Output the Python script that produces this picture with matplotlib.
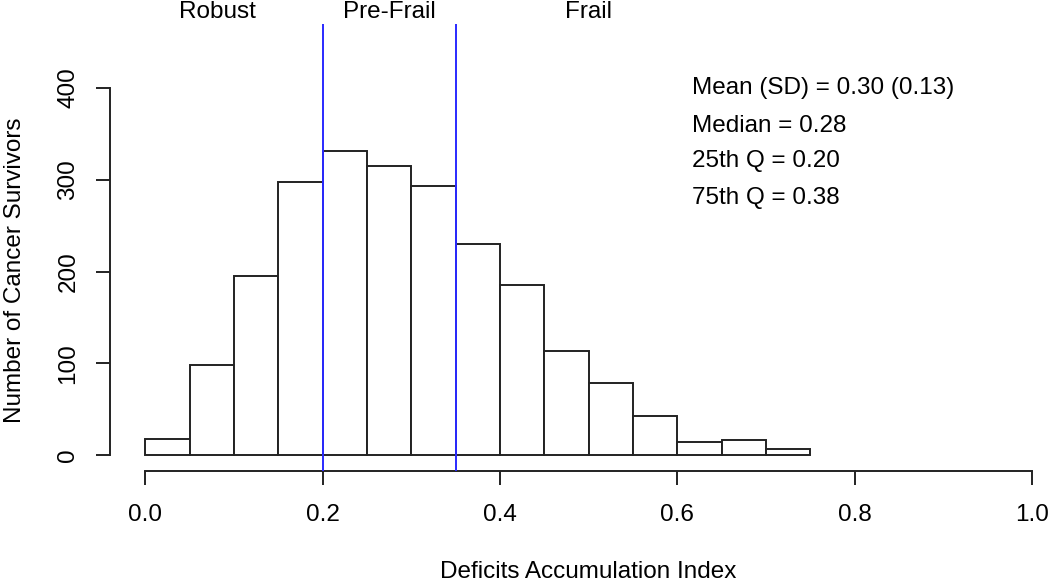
import matplotlib
matplotlib.use("Agg")
import matplotlib.pyplot as plt
import numpy as np

plt.rcParams['font.family'] = ['Liberation Sans', 'DejaVu Sans']

# histogram of the deficits accumulation index
bin_edges = [0.00, 0.05, 0.10, 0.15, 0.20, 0.25, 0.30, 0.35, 0.40, 0.45,
             0.50, 0.55, 0.60, 0.65, 0.70, 0.75]
counts = [17, 98, 195, 298, 331, 315, 293, 230, 185, 113, 79, 43, 14, 16, 7]

cutoffs = [0.20, 0.35]
groups = ['Robust', 'Pre-Frail', 'Frail']
group_x = [0.081, 0.275, 0.50]

stats = ['Mean (SD) = 0.30 (0.13)', 'Median = 0.28',
         '25th Q = 0.20', '75th Q = 0.38']
stats_y = [400, 359, 320, 280]

xticks = [0.0, 0.2, 0.4, 0.6, 0.8, 1.0]
yticks = [0, 100, 200, 300, 400]

fs = 17.5
W, H = 1050, 582
fig = plt.figure(figsize=(W / 100, H / 100), dpi=100)
left, right, top, bottom = 110, 1067.5, 24, 471
ax = fig.add_axes([left / W, 1 - bottom / H, (right - left) / W, (bottom - top) / H])

widths = np.diff(bin_edges)
ax.bar(bin_edges[:-1], counts, width=widths, align='edge',
       color='white', edgecolor='#222222', linewidth=1.4)

for c in cutoffs:
    ax.axvline(c, color='#2a2aff', linewidth=1.4, zorder=3)

ax.set_xlim(-0.04, 1.04)
ax.set_ylim(-17.4, 469.8)

for s in ['top', 'right']:
    ax.spines[s].set_visible(False)
ax.spines['left'].set_bounds(0, 400)
ax.spines['bottom'].set_bounds(0, 1)
for s in ['left', 'bottom']:
    ax.spines[s].set_linewidth(1.4)
    ax.spines[s].set_color('#222222')

ax.set_xticks(xticks)
ax.set_xticklabels([f'{v:.1f}' for v in xticks])
ax.set_yticks(yticks)
ax.set_yticklabels([str(v) for v in yticks], rotation=90, va='center')
ax.tick_params(axis='both', length=10, width=1.4, color='#222222',
               labelsize=fs, pad=12)
ax.tick_params(axis='x', pad=14)

ax.set_xlabel('Deficits Accumulation Index', fontsize=fs, va='center')
ax.xaxis.set_label_coords(0.4997, -0.2267)
ax.set_ylabel('Number of Cancer Survivors', fontsize=fs, va='center')
ax.yaxis.set_label_coords(-0.0992, 0.448)

for name, x in zip(groups, group_x):
    ax.text(x, 482.8, name, ha='center', va='center', fontsize=fs, clip_on=False)

for s, y in zip(stats, stats_y):
    ax.text(0.617, y, s, ha='left', va='center', fontsize=fs)

fig.savefig('out.png', dpi=100)
